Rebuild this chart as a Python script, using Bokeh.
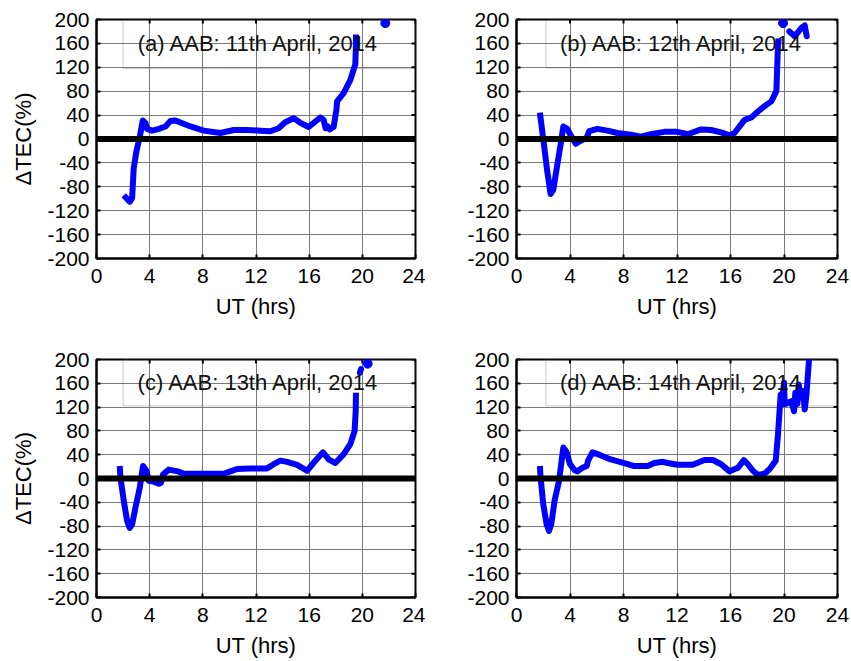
from bokeh.plotting import figure
from bokeh.models import Range1d, FixedTicker, Span, BoxAnnotation, Label
from bokeh.layouts import column, row
from bokeh.embed import file_html
from bokeh.resources import INLINE
import math

FONT = "Liberation Sans"

x_ticks = [0, 4, 8, 12, 16, 20, 24]
y_ticks = [-200, -160, -120, -80, -40, 0, 40, 80, 120, 160, 200]

titles = ["(a) AAB: 11th April, 2014", "(b) AAB: 12th April, 2014",
          "(c) AAB: 13th April, 2014", "(d) AAB: 14th April, 2014"]

# Panel (a) 11 April
a_t = [2.05, 2.5, 2.68, 2.8, 3.0, 3.26, 3.48, 3.68, 3.8, 4.18,
       4.69, 5.19, 5.56, 5.94, 7.07, 8.07, 9.32, 10.33, 11.33, 12.33,
       13.08, 13.7, 14.2, 14.84, 15.34, 15.96, 16.84, 17.09, 17.24, 17.39,
       17.54, 17.84, 18.05, 18.1, 18.6, 19.1, 19.47, 19.52, 19.52]
a_v = [-94, -105, -99, -49, -21, 4, 31, 27, 17, 14,
       17, 21, 30, 31, 21, 14, 10, 15, 15, 14,
       13, 18, 28, 35, 27, 20, 36, 32, 18, 21,
       16, 20, 49, 63, 77, 99, 125, 158, 175]
a_seg_t = []
a_seg_v = []
a_dot_t = [21.73]
a_dot_v = [194]

# Panel (b) 12 April
b_t = [1.75, 2.05, 2.3, 2.55, 2.75, 3.05, 3.3, 3.5, 3.8, 4.05,
       4.43, 4.8, 5.25, 5.43, 6.05, 6.8, 7.55, 8.55, 9.3, 10.05,
       11.05, 12.05, 12.8, 13.8, 14.55, 15.3, 15.93, 16.3, 16.68, 17.05,
       17.55, 18.05, 18.55, 19.05, 19.43, 19.48, 19.55, 19.6]
b_v = [44, -9, -54, -92, -85, -43, -9, 21, 17, 6,
       -8, -3, 2, 13, 17, 14, 10, 7, 4, 8,
       12, 12, 8, 16, 15, 11, 6, 10, 21, 32,
       36, 46, 55, 63, 80, 113, 158, 168]
b_seg_t = [20.4, 20.6, 20.8, 21.05, 21.3, 21.55, 21.7]
b_seg_v = [180, 176, 172, 179, 186, 190, 172]
b_dot_t = [19.93]
b_dot_v = [194]

# Panel (c) 13 April
c_t = [1.75, 1.8, 2.05, 2.3, 2.5, 2.68, 2.93, 3.26, 3.5, 3.76,
       3.93, 4.26, 4.69, 4.86, 5.01, 5.44, 6.12, 6.57, 7.82, 9.57,
       10.08, 10.58, 11.58, 12.83, 13.33, 13.83, 14.34, 15.09, 15.84, 16.47,
       17.04, 17.47, 17.97, 18.6, 19.1, 19.42, 19.5, 19.52]
c_v = [21, 2, -37, -71, -83, -77, -49, -15, 21, 13,
       -4, -5, -9, -7, 7, 15, 12, 8, 8, 8,
       12, 16, 17, 17, 24, 30, 28, 23, 13, 30,
       44, 32, 26, 41, 58, 80, 113, 144]
c_seg_t = [19.82, 19.9]
c_seg_v = [178, 184]
c_dot_t = [20.4]
c_dot_v = [193]

# Panel (d) 14 April
d_t = [1.75, 1.8, 2.0, 2.25, 2.43, 2.6, 2.85, 3.18, 3.5, 3.75,
       4.0, 4.35, 4.55, 4.93, 5.25, 5.35, 5.68, 6.18, 7.05, 8.05,
       8.8, 9.8, 10.3, 10.93, 11.3, 12.05, 13.18, 14.05, 14.68, 15.3,
       15.93, 16.55, 17.0, 17.3, 17.68, 18.05, 18.55, 18.93, 19.38, 19.55,
       19.75, 19.93, 20.0, 20.05, 20.3, 20.55, 20.75, 20.85, 21.0, 21.1,
       21.25, 21.43, 21.55, 21.68, 21.88, 21.95]
d_v = [21, 2, -43, -77, -88, -77, -37, -4, 52, 44,
       24, 14, 12, 18, 21, 30, 44, 40, 32, 26,
       21, 21, 26, 28, 26, 23, 23, 31, 31, 24,
       12, 18, 31, 24, 13, 6, 8, 16, 30, 74,
       141, 144, 161, 125, 127, 130, 113, 144, 125, 158,
       136, 147, 116, 141, 203, 230]
d_seg_t = []
d_seg_v = []
d_dot_t = []
d_dot_v = []

# legend box extents (left, bottom) and text anchor (x, y) per panel
box_left = [2.0, 2.2, 2.0, 2.2]
box_bottom = [118, 119, 122, 122]
text_x = [12.2, 12.35, 12.2, 12.35]
text_y = [160, 160, 161, 161]

BLUE = "#0000ff"


def style_axis(ax, ticks):
    ax.ticker = FixedTicker(ticks=ticks)
    ax.major_label_overrides = {t: str(t) for t in ticks}
    ax.axis_line_color = "black"
    ax.axis_line_width = 2
    ax.major_tick_line_color = "black"
    ax.major_tick_line_width = 2
    ax.major_tick_in = 4
    ax.major_tick_out = 0
    ax.minor_tick_line_color = None
    ax.major_label_text_font = FONT
    ax.major_label_text_font_size = "21px"
    ax.major_label_text_color = "black"
    ax.axis_label_text_font = FONT
    ax.axis_label_text_font_style = "normal"
    ax.axis_label_text_color = "black"
    ax.axis_label_text_font_size = "22px"


def panel(i, t, v, seg_t, seg_v, dot_t, dot_v, width, height, left, right, top, bottom, ylabel):
    p = figure(width=width, height=height, output_backend="svg", toolbar_location=None,
               x_range=Range1d(0, 24), y_range=Range1d(-200, 200),
               min_border_left=left, min_border_right=right,
               min_border_top=top, min_border_bottom=bottom)
    p.background_fill_color = "white"
    p.border_fill_color = "white"
    p.outline_line_color = "black"
    p.outline_line_width = 2

    p.xgrid.ticker = FixedTicker(ticks=x_ticks)
    p.ygrid.ticker = FixedTicker(ticks=y_ticks)
    for g in (p.xgrid[0], p.ygrid[0]):
        g.grid_line_color = "#7a7a7a"
        g.grid_line_width = 1

    style_axis(p.xaxis[0], x_ticks)
    style_axis(p.yaxis[0], y_ticks)
    p.xaxis[0].axis_label = "UT (hrs)"
    p.xaxis[0].major_label_standoff = 10
    p.xaxis[0].axis_label_standoff = 8
    p.yaxis[0].major_label_standoff = 7
    p.yaxis[0].axis_label_standoff = 8
    if ylabel:
        p.yaxis[0].axis_label = "\u0394TEC(%)"

    # inward tick marks on the top and right edges of the box
    p.scatter(x_ticks, [200] * len(x_ticks), marker="dash", angle=math.pi / 2, size=8,
              line_color="black", line_width=2)
    p.scatter([24] * len(y_ticks), y_ticks, marker="dash", size=8,
              line_color="black", line_width=2)

    p.add_layout(BoxAnnotation(left=box_left[i], right=24, bottom=box_bottom[i], top=200,
                               fill_color=None, line_color="#505050", line_width=1,
                               level="underlay"))

    p.add_layout(Span(location=0, dimension="width", line_color="black", line_width=6))

    p.line(t, v, line_color=BLUE, line_width=6, line_join="round", line_cap="butt")
    if seg_t:
        p.line(seg_t, seg_v, line_color=BLUE, line_width=6, line_join="round", line_cap="round")
    if dot_t:
        p.scatter(dot_t, dot_v, size=9, fill_color=BLUE, line_color=BLUE)

    p.add_layout(Label(x=text_x[i], y=text_y[i], text=titles[i], text_align="center",
                       text_baseline="middle", text_font=FONT, text_font_size="22px",
                       text_color="#111111"))
    return p


pa = panel(0, a_t, a_v, a_seg_t, a_seg_v, a_dot_t, a_dot_v, 425, 330, 96, 10, 19, 72, True)
pb = panel(1, b_t, b_v, b_seg_t, b_seg_v, b_dot_t, b_dot_v, 425, 330, 91, 13, 19, 72, False)
pc = panel(2, c_t, c_v, c_seg_t, c_seg_v, c_dot_t, c_dot_v, 425, 330, 96, 10, 29, 63, True)
pd = panel(3, d_t, d_v, d_seg_t, d_seg_v, d_dot_t, d_dot_v, 425, 330, 91, 13, 29, 63, False)

layout = column(row(pa, pb), row(pc, pd))

open("out.html", "w").write(file_html(layout, INLINE))
